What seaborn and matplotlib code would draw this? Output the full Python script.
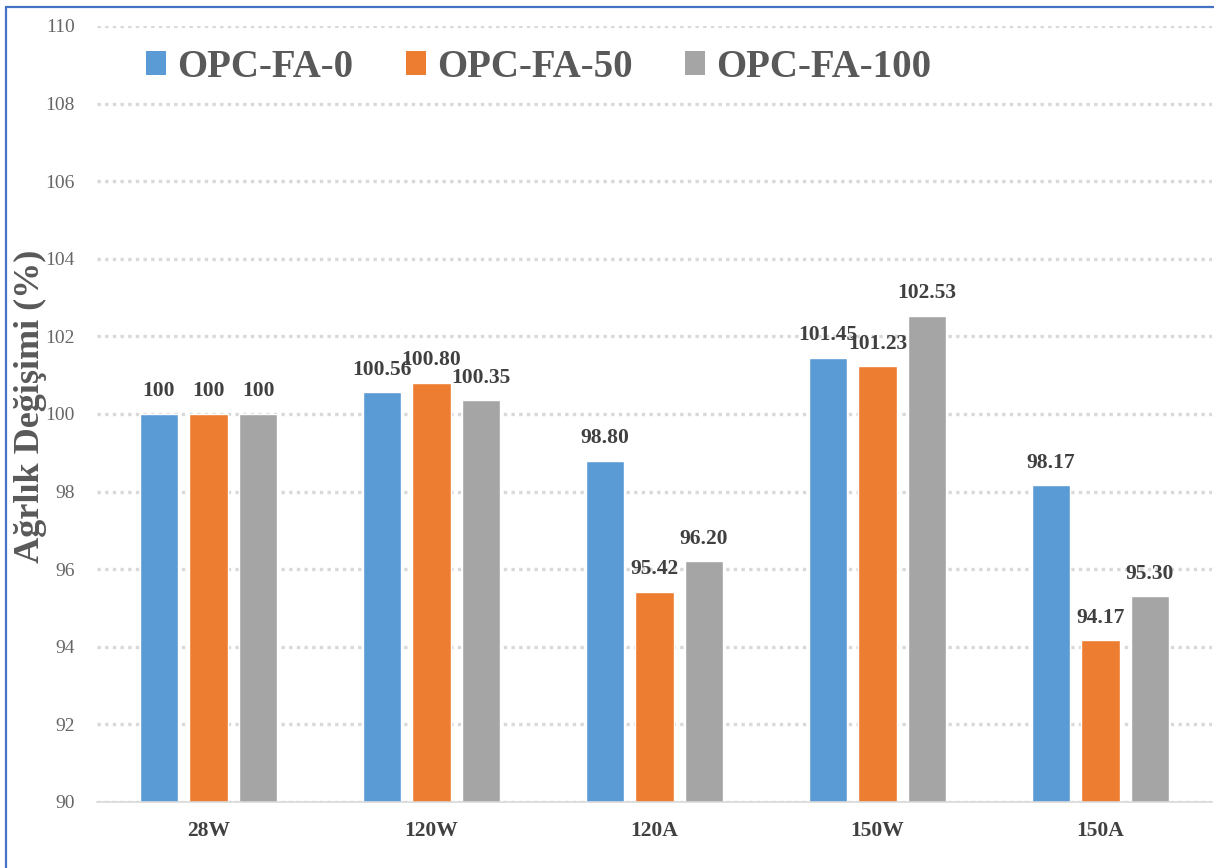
import numpy as np
import pandas as pd
import seaborn as sns
import matplotlib
matplotlib.use("Agg")
import matplotlib.pyplot as plt
from matplotlib.patches import Patch
from matplotlib.lines import Line2D

# Weight change (%) per exposure condition and mix
conditions = ["28W", "120W", "120A", "150W", "150A"]
series = ["OPC-FA-0", "OPC-FA-50", "OPC-FA-100"]
opc_fa_0 = [100.00, 100.56, 98.80, 101.45, 98.17]
opc_fa_50 = [100.00, 100.80, 95.42, 101.23, 94.17]
opc_fa_100 = [100.00, 100.35, 96.20, 102.53, 95.30]
colors = ["#5B9BD5", "#ED7D31", "#A5A5A5"]

df = pd.DataFrame({
    "cond": conditions * 3,
    "mix": [s for s in series for _ in conditions],
    "val": opc_fa_0 + opc_fa_50 + opc_fa_100,
})

sns.set_theme(style="white")
plt.rcParams["font.family"] = ["Liberation Serif", "DejaVu Serif"]

fig = plt.figure(figsize=(12.14, 8.68), dpi=100)
W, H = 1214, 868
ax = fig.add_axes([97 / W, 1 - 802 / H, (1212 - 97) / W, 776 / H])

sns.barplot(data=df, x="cond", y="val", hue="mix", order=conditions,
            hue_order=series, palette=colors, width=0.666, gap=0.22,
            saturation=1, legend=False, ax=ax, bottom=0)

ax.set_ylim(90, 110)
ax.set_xlim(-0.5, 4.5)
ax.set_yticks(np.arange(90, 111, 2))
ax.set_axisbelow(True)
ax.yaxis.grid(True, color="#D9D9D9", linestyle=(0, (1, 1.3)), linewidth=2.4)
ax.xaxis.grid(False)
for side in ["top", "right", "left"]:
    ax.spines[side].set_visible(False)
ax.spines["bottom"].set_color("#D9D9D9")
ax.spines["bottom"].set_linewidth(1.2)

ax.tick_params(axis="y", length=0, pad=16, labelsize=14, labelcolor="#666666")
ax.tick_params(axis="x", length=0, pad=14, labelsize=15.5, labelcolor="#404040")
for t in ax.get_xticklabels():
    t.set_fontweight("bold")
ax.set_xlabel("")
ax.set_ylabel("")


def fmt(v):
    return f"{v:.0f}" if float(v).is_integer() else f"{v:.2f}"


for cont, vals in zip(ax.containers, [opc_fa_0, opc_fa_50, opc_fa_100]):
    ax.bar_label(cont, labels=[fmt(v) for v in vals], padding=9,
                 fontsize=15.5, fontweight="bold", color="#404040")

handles = [Patch(facecolor=c, edgecolor="none", label=s) for c, s in zip(colors, series)]
ax.legend(handles=handles, loc="center left", bbox_to_anchor=(0.044, 0.947),
          ncol=3, frameon=False, prop={"size": 28, "weight": "bold"},
          labelcolor="#595959", handlelength=0.52, handleheight=0.6,
          handletextpad=0.28, columnspacing=1.35, borderpad=0, borderaxespad=0)

fig.text(30 / W, 1 - 406 / H, "Ağrlık Değişimi (%)", rotation=90,
         ha="center", va="center", fontsize=26, fontweight="bold",
         color="#595959")

# blue frame along the left and top edges
fig.add_artist(Line2D([6 / W, 6 / W], [0, 1 - 7 / H], transform=fig.transFigure,
                      color="#4472C4", linewidth=1.6))
fig.add_artist(Line2D([6 / W, 1], [1 - 7 / H, 1 - 7 / H], transform=fig.transFigure,
                      color="#4472C4", linewidth=1.6))

fig.savefig("out.png", dpi=100)
